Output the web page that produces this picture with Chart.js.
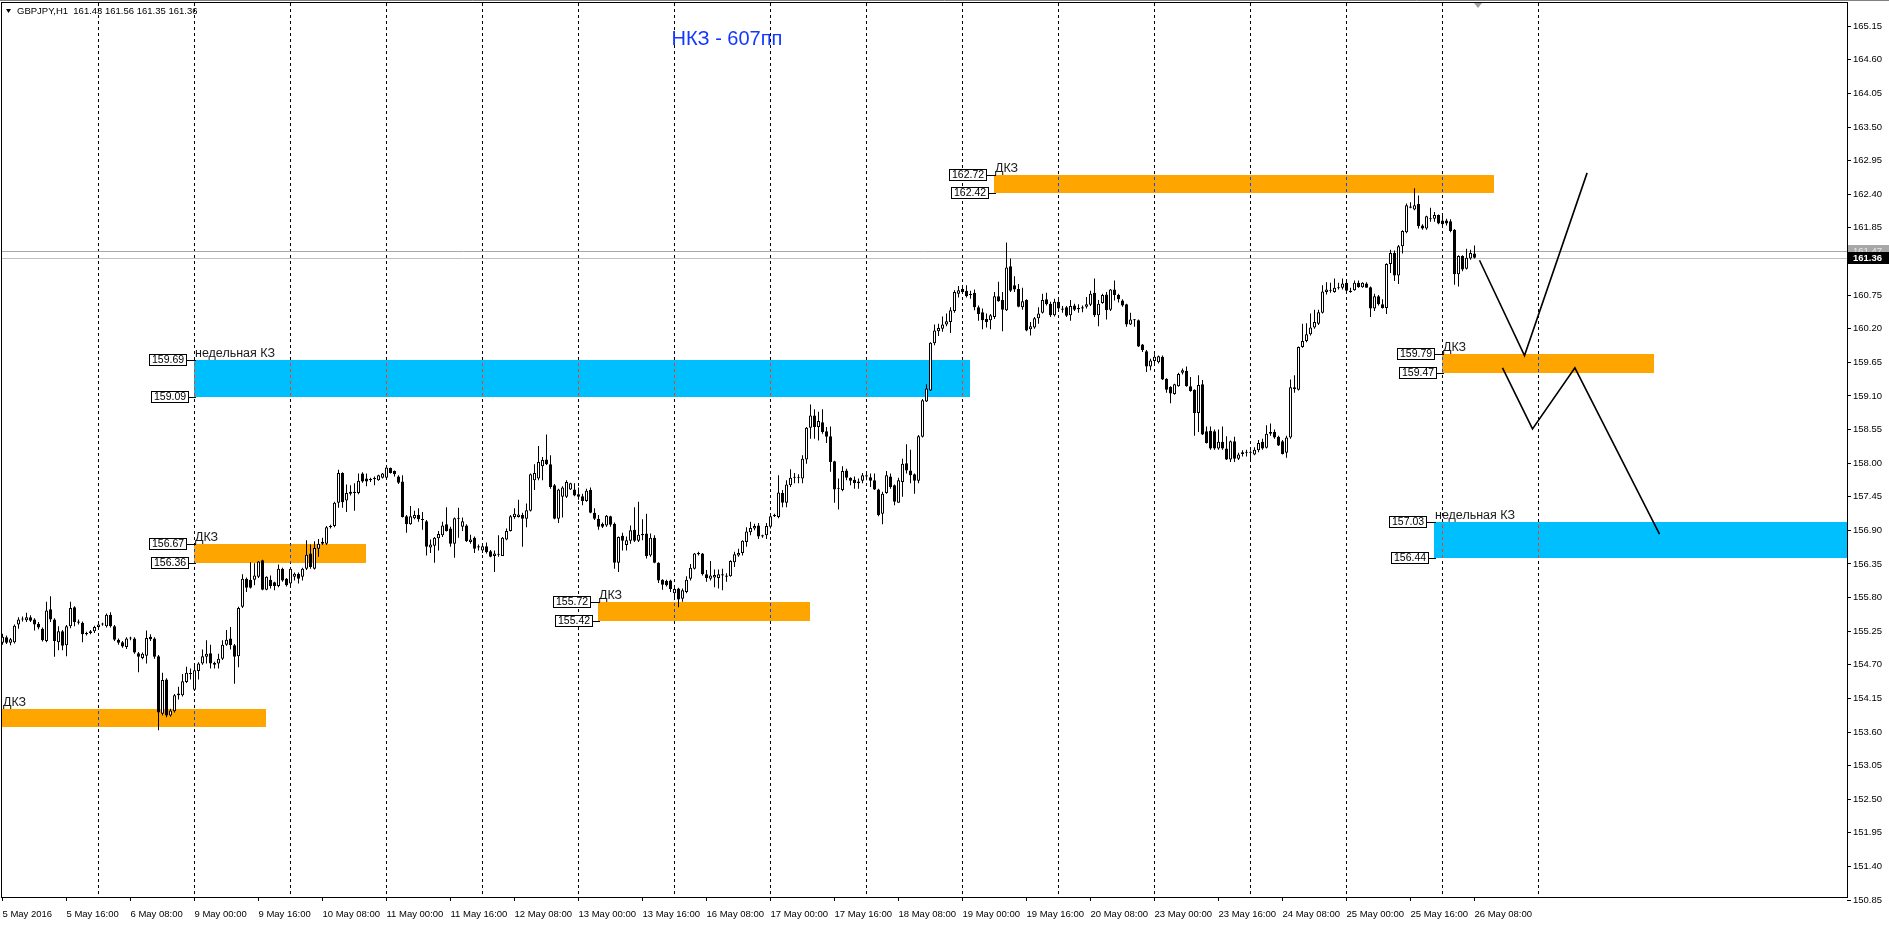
<!DOCTYPE html>
<html><head><meta charset="utf-8">
<script src="https://cdn.jsdelivr.net/npm/chart.js@4.4.0/dist/chart.umd.min.js"></script>
<style>html,body{margin:0;padding:0;background:#fff;overflow:hidden}</style>
</head><body>
<canvas id="c" width="1889" height="928"></canvas>
<script>
// ---- GBPJPY H1 candles (index = hourly bar from 5 May 2016 00:00) ----
const opens = [155.06,155.15,155.06,155.07,155.36,155.44,155.43,155.48,155.44,155.37,155.29,155.09,155.61,155.44,155.07,155.25,155.02,155.33,155.64,155.41,155.39,155.20,155.22,155.25,
155.32,155.36,155.33,155.52,155.33,155.11,155.07,154.99,155.13,155.13,154.89,154.81,154.85,155.16,155.13,154.84,153.90,154.46,153.87,153.94,154.20,154.20,154.42,154.56,
154.29,154.60,154.72,154.83,154.89,154.73,154.72,154.80,155.03,155.13,155.02,154.84,155.65,156.11,156.09,156.09,156.14,156.41,155.93,156.09,156.05,155.99,156.27,156.11,
156.03,156.14,156.19,156.14,156.27,156.52,156.27,156.60,156.68,156.68,156.95,156.97,157.35,157.84,157.39,157.53,157.51,157.51,157.83,157.75,157.72,157.74,157.72,157.76,
157.76,157.92,157.87,157.78,157.70,157.13,157.00,157.10,157.15,157.08,157.05,156.62,156.65,156.77,156.82,157.00,156.93,156.68,157.10,156.96,156.98,156.71,156.78,156.62,
156.57,156.64,156.56,156.48,156.50,156.48,156.75,156.89,157.12,157.12,157.15,157.09,157.22,157.72,157.75,157.95,158.06,157.98,157.64,157.09,157.45,157.45,157.57,157.57,
157.49,157.46,157.38,157.56,157.19,157.09,157.01,156.98,157.13,157.01,156.37,156.81,156.66,156.73,156.91,156.73,156.82,156.85,156.49,156.78,156.37,156.09,156.07,156.08,
155.87,155.95,155.78,155.89,156.11,156.27,156.53,156.52,156.18,156.11,156.13,156.12,156.18,156.16,156.15,156.38,156.49,156.53,156.71,156.87,156.93,156.98,156.82,156.82,
156.96,157.13,157.12,157.51,157.35,157.64,157.76,157.77,157.75,158.06,158.58,158.78,158.59,158.67,158.52,158.44,158.03,157.59,157.56,157.88,157.76,157.73,157.67,157.71,
157.80,157.77,157.72,157.57,157.17,157.51,157.78,157.64,157.35,157.69,158.00,157.88,157.82,157.71,158.43,159.01,159.19,159.96,160.16,160.20,160.27,160.31,160.49,160.77,
160.85,160.82,160.76,160.79,160.55,160.47,160.36,160.34,160.39,160.73,160.67,160.50,161.22,160.91,160.85,160.55,160.67,160.19,160.22,160.37,160.46,160.68,160.61,160.42,
160.64,160.53,160.55,160.42,160.58,160.54,160.53,160.56,160.59,160.79,160.42,160.62,160.76,160.51,160.84,160.75,160.66,160.60,160.27,160.35,160.34,159.94,159.83,159.58,
159.67,159.65,159.74,159.38,159.25,159.13,159.26,159.48,159.51,159.26,159.20,158.82,159.29,158.52,158.53,158.52,158.24,158.35,158.24,158.06,158.36,158.07,158.15,158.17,
158.18,158.14,158.21,158.35,158.25,158.48,158.51,158.43,158.36,158.17,158.42,159.21,159.20,159.90,160.00,160.11,160.22,160.28,160.46,160.80,160.82,160.80,160.86,160.87,
160.95,160.82,160.83,160.95,160.88,160.94,160.88,160.53,160.73,160.60,160.54,161.26,161.44,161.07,161.55,161.78,162.20,162.15,162.24,161.89,161.84,162.00,162.00,162.06,
161.97,161.97,161.96,161.82,161.09,161.39,161.18,161.35,161.43];
const highs = [155.21,155.18,155.14,155.36,155.48,155.49,155.55,155.51,155.46,155.40,155.31,155.73,155.82,155.46,155.33,155.27,155.35,155.73,155.66,155.44,155.41,155.24,155.27,155.34,
155.40,155.39,155.54,155.56,155.35,155.13,155.09,155.15,155.16,155.15,154.91,154.90,155.26,155.20,155.15,154.86,154.57,154.48,153.98,154.22,154.34,154.55,154.67,154.64,
154.72,154.74,154.95,155.10,155.03,154.75,154.88,155.10,155.27,155.32,155.04,155.65,156.18,156.13,156.38,156.36,156.40,156.42,156.15,156.16,156.06,156.34,156.29,156.12,
156.30,156.21,156.21,156.29,156.74,156.67,156.72,156.76,156.78,156.97,156.99,157.37,157.89,157.85,157.65,157.64,157.67,157.83,157.85,157.83,157.76,157.78,157.81,157.84,
157.94,157.93,157.88,157.80,157.80,157.15,157.30,157.22,157.26,157.20,157.07,156.75,156.79,156.89,157.04,157.28,156.96,157.11,157.27,157.11,157.00,156.83,156.80,156.67,
156.66,156.70,156.58,156.57,156.82,156.79,156.93,157.15,157.26,157.40,157.19,157.34,157.83,157.98,158.28,158.10,158.47,158.13,157.66,157.58,157.62,157.72,157.68,157.67,
157.60,157.50,157.58,157.60,157.26,157.15,157.03,157.15,157.14,157.03,156.80,156.86,156.80,156.98,157.28,157.37,157.08,157.17,156.85,156.82,156.38,156.10,156.09,156.09,
155.97,155.96,155.95,156.15,156.35,156.53,156.55,156.53,156.25,156.40,156.26,156.26,156.27,156.20,156.41,156.55,156.60,156.74,156.95,157.04,157.01,157.02,156.83,157.02,
157.17,157.17,157.80,157.56,157.72,157.90,157.84,157.82,158.13,158.59,158.96,158.88,158.84,158.88,158.59,158.60,158.04,157.75,157.95,157.91,157.77,157.78,157.75,157.84,
157.84,157.83,157.83,157.58,157.53,157.87,157.83,157.65,157.76,158.07,158.31,158.22,157.83,158.46,159.05,159.29,159.98,160.27,160.28,160.40,160.45,160.55,160.83,160.90,
160.90,160.91,160.82,160.84,160.58,160.53,160.45,160.44,160.80,160.97,160.80,161.61,161.35,161.06,160.93,160.87,160.68,160.31,160.39,160.55,160.77,160.79,160.64,160.69,
160.69,160.57,160.57,160.67,160.61,160.60,160.58,160.72,160.82,161.02,160.67,160.77,160.80,160.85,160.99,160.77,160.68,160.61,160.46,160.36,160.35,159.95,159.85,159.71,
159.78,159.76,159.76,159.39,159.26,159.30,159.48,159.55,159.58,159.41,159.21,159.44,159.36,158.60,158.60,158.55,158.55,158.60,158.44,158.37,158.43,158.17,158.21,158.22,
158.21,158.26,158.38,158.40,158.62,158.65,158.55,158.45,158.38,158.45,159.37,159.44,159.91,160.28,160.29,160.45,160.51,160.51,160.91,160.96,160.95,161.02,160.95,161.02,
160.99,160.87,160.99,160.99,160.96,160.96,160.89,160.77,160.75,160.68,161.27,161.49,161.48,161.57,161.81,162.25,162.27,162.50,162.38,161.91,162.05,162.18,162.11,162.07,
162.06,162.00,161.99,161.83,161.40,161.40,161.51,161.49,161.56];
const lows = [155.03,155.04,155.02,155.05,155.29,155.41,155.40,155.40,155.26,155.28,155.08,155.07,155.40,154.83,154.94,154.94,154.84,155.30,155.33,155.36,155.07,155.18,155.20,155.22,
155.30,155.34,155.31,155.31,155.09,155.03,154.98,154.96,155.10,154.88,154.58,154.79,154.72,155.09,154.80,153.63,153.87,153.84,153.85,153.92,154.13,154.18,154.40,154.46,
154.27,154.46,154.70,154.72,154.64,154.64,154.64,154.78,155.01,154.95,154.39,154.66,155.63,155.89,155.95,156.00,156.12,155.92,155.92,155.95,155.92,155.97,156.06,155.98,
156.00,156.08,156.03,156.08,156.25,156.27,156.26,156.47,156.66,156.66,156.93,156.95,157.27,157.27,157.20,157.47,157.22,157.49,157.68,157.62,157.69,157.64,157.71,157.75,
157.75,157.83,157.78,157.66,157.11,156.86,156.99,157.08,157.04,156.91,156.49,156.53,156.37,156.57,156.79,156.88,156.63,156.45,156.78,156.89,156.71,156.68,156.53,156.57,
156.53,156.52,156.46,156.22,156.47,156.48,156.74,156.88,157.09,157.11,156.63,156.95,157.21,157.56,157.72,157.72,157.97,157.58,157.08,157.02,157.11,157.43,157.56,157.46,
157.40,157.31,157.37,157.18,157.07,156.91,156.94,156.96,156.96,156.27,156.22,156.57,156.57,156.68,156.71,156.71,156.74,156.44,156.47,156.36,156.04,155.93,155.98,155.89,
155.78,155.64,155.73,155.87,156.08,156.26,156.49,156.16,156.06,156.08,155.97,155.95,155.92,156.06,156.14,156.30,156.47,156.49,156.63,156.82,156.90,156.76,156.78,156.76,
156.93,157.12,157.10,157.28,157.28,157.61,157.67,157.67,157.67,157.99,158.40,158.40,158.37,158.48,158.33,157.86,157.35,157.24,157.54,157.72,157.64,157.58,157.58,157.67,
157.72,157.61,157.56,157.13,157.00,157.50,157.58,157.31,157.35,157.45,157.83,157.67,157.50,157.67,158.42,159.00,159.18,159.93,160.08,160.15,160.24,160.13,160.46,160.71,
160.79,160.71,160.69,160.50,160.33,160.19,160.22,160.19,160.36,160.64,160.16,160.49,160.80,160.80,160.55,160.51,160.16,160.09,160.20,160.28,160.45,160.58,160.39,160.40,
160.50,160.46,160.39,160.33,160.49,160.46,160.47,160.53,160.57,160.39,160.24,160.61,160.35,160.49,160.66,160.63,160.56,160.23,160.26,160.23,159.90,159.82,159.49,159.52,
159.63,159.63,159.36,159.15,158.98,159.12,159.25,159.45,159.25,159.17,158.45,158.51,158.46,158.32,158.22,158.22,158.22,158.22,158.05,158.02,158.02,158.05,158.11,158.11,
158.02,158.13,158.18,158.22,158.24,158.45,158.40,158.28,158.14,158.09,158.40,159.15,159.19,159.89,159.98,160.09,160.20,160.26,160.45,160.76,160.79,160.79,160.84,160.84,
160.79,160.79,160.82,160.87,160.87,160.87,160.39,160.49,160.58,160.53,160.44,161.11,160.98,160.93,161.43,161.76,162.17,162.14,161.84,161.82,161.82,161.95,161.95,161.91,
161.85,161.89,161.78,160.92,160.89,161.14,161.17,161.33,161.35];
const closes = [155.16,155.06,155.12,155.34,155.44,155.45,155.48,155.42,155.36,155.31,155.10,155.59,155.44,155.09,155.25,155.01,155.33,155.63,155.40,155.39,155.20,155.22,155.25,155.32,
155.36,155.37,155.52,155.33,155.11,155.06,155.00,155.13,155.14,154.90,154.83,154.88,155.14,155.12,154.83,153.92,154.45,153.87,153.95,154.20,154.23,154.43,154.57,154.55,
154.61,154.72,154.84,154.88,154.72,154.70,154.80,155.03,155.11,155.02,154.83,155.63,156.11,155.96,155.96,156.16,156.39,155.93,156.14,155.99,155.99,156.27,156.08,156.00,
156.27,156.19,156.11,156.27,156.50,156.30,156.61,156.68,156.71,156.95,156.97,157.35,157.84,157.36,157.51,157.50,157.53,157.71,157.70,157.70,157.74,157.75,157.80,157.83,
157.93,157.84,157.82,157.68,157.12,157.00,157.13,157.15,157.08,157.07,156.63,156.67,156.78,156.84,156.98,156.89,156.68,157.10,157.09,157.05,156.72,156.75,156.60,156.64,
156.64,156.54,156.47,156.52,156.51,156.78,156.89,157.13,157.17,157.16,157.09,157.23,157.82,157.84,158.02,158.05,157.98,157.61,157.09,157.57,157.60,157.69,157.67,157.47,
157.45,157.38,157.55,157.19,157.09,156.96,156.96,157.14,156.99,156.37,156.79,156.73,156.74,156.90,156.73,156.83,156.84,156.48,156.78,156.37,156.08,156.01,156.00,155.94,
155.94,155.77,155.92,156.09,156.29,156.52,156.51,156.18,156.12,156.16,156.17,156.18,156.16,156.14,156.40,156.51,156.53,156.73,156.88,156.94,156.97,156.80,156.80,156.97,
157.13,157.15,157.52,157.35,157.65,157.76,157.77,157.76,158.07,158.58,158.78,158.59,158.69,158.51,158.43,158.02,157.57,157.58,157.87,157.76,157.71,157.67,157.70,157.80,
157.78,157.71,157.57,157.15,157.50,157.80,157.61,157.37,157.72,157.99,157.88,157.80,157.71,158.44,159.03,159.22,159.97,160.17,160.21,160.27,160.32,160.50,160.80,160.83,
160.80,160.73,160.75,160.55,160.44,160.34,160.31,160.42,160.73,160.65,160.51,161.20,160.82,160.84,160.56,160.65,160.17,160.24,160.37,160.45,160.67,160.60,160.42,160.64,
160.53,160.51,160.41,160.57,160.51,160.52,160.55,160.60,160.77,160.42,160.61,160.75,160.50,160.84,160.75,160.68,160.58,160.27,160.35,160.34,159.91,159.85,159.58,159.68,
159.74,159.75,159.37,159.20,159.14,159.29,159.46,159.52,159.26,159.18,158.82,159.28,158.47,158.33,158.24,158.24,158.35,158.24,158.06,158.36,158.07,158.14,158.18,158.18,
158.17,158.22,158.33,158.24,158.48,158.51,158.42,158.29,158.15,158.42,159.24,159.24,159.90,160.00,160.11,160.22,160.31,160.47,160.81,160.84,160.83,160.87,160.87,160.94,
160.82,160.80,160.95,160.88,160.95,160.87,160.53,160.73,160.60,160.54,161.26,161.44,161.07,161.55,161.80,162.22,162.18,162.22,161.88,161.84,162.04,161.99,162.06,161.92,
161.91,161.92,161.80,161.09,161.39,161.17,161.36,161.44,161.36];

// ---- axis ticks ----
const xTickBars = [0,16,32,48,64,80,96,112,128,144,160,176,192,208,224,240,256,272,288,304,320,336,352,368];
const xTickLabels = ['5 May 2016','5 May 16:00','6 May 08:00','9 May 00:00','9 May 16:00','10 May 08:00','11 May 00:00','11 May 16:00','12 May 08:00','13 May 00:00','13 May 16:00','16 May 08:00','17 May 00:00','17 May 16:00','18 May 08:00','19 May 00:00','19 May 16:00','20 May 08:00','23 May 00:00','23 May 16:00','24 May 08:00','25 May 00:00','25 May 16:00','26 May 08:00'];
const yTickValues = [165.15,164.60,164.05,163.50,162.95,162.40,161.85,161.30,160.75,160.20,159.65,159.10,158.55,158.00,157.45,156.90,156.35,155.80,155.25,154.70,154.15,153.60,153.05,152.50,151.95,151.40,150.85];
const dayStartBars = [24,48,72,96,120,144,168,192,216,240,264,288,312,336,360,384];

// ---- zones (rectangles) ----
const zoneName  = ['ДКЗ','ДКЗ','недельная КЗ','ДКЗ','ДКЗ','ДКЗ','недельная КЗ'];
const zoneHigh  = [153.98,156.67,159.69,155.72,162.72,159.79,157.03];
const zoneLow   = [153.68,156.36,159.09,155.42,162.42,159.47,156.44];
const zoneStart = [-1,47.95,47.9,148.8,247.9,359.9,357.8];
const zoneEnd   = [65.8,90.8,241.9,201.8,372.9,412.9,470];
const zoneTags  = [false,true,true,true,true,true,true];

// ---- forecast paths ----
const pathAX = [369.25,380.5,396.15];
const pathAY = [161.32,159.76,162.75];
const pathBX = [375,382.5,393.1,414.25];
const pathBY = [159.56,158.56,159.56,156.84];

const bidPrice = 161.36, askPrice = 161.47;
const headerText = 'GBPJPY,H1  161.43 161.56 161.35 161.36';
const titleText = 'НКЗ - 607пп';

const FONT = 'Liberation Sans, Arial, sans-serif';
const idx = opens.map((_, i) => i);
const bodyData = idx.map(i => ({x: i, y: [opens[i], closes[i]]}));
const wickData = idx.map(i => ({x: i, y: [lows[i], highs[i]]}));
const bodyColors = idx.map(i => closes[i] >= opens[i] ? '#ffffff' : '#000000');
const pathA = pathAX.map((v, i) => ({x: v, y: pathAY[i]}));
const pathB = pathBX.map((v, i) => ({x: v, y: pathBY[i]}));

const overlay = {
  id: 'overlay',
  beforeDatasetsDraw(chart) {
    const {ctx, chartArea: ca, scales: {x, y}} = chart;
    ctx.save();
    ctx.beginPath(); ctx.rect(ca.left, ca.top, ca.right - ca.left, ca.bottom - ca.top); ctx.clip();
    const rects = zoneHigh.map((hi, k) => {
      const x0 = Math.round(x.getPixelForValue(zoneStart[k])), x1 = Math.round(x.getPixelForValue(zoneEnd[k]));
      const y0 = Math.round(y.getPixelForValue(hi)), y1 = Math.round(y.getPixelForValue(zoneLow[k]));
      return {x0, x1, y0, y1, orange: zoneName[k] === 'ДКЗ'};
    });
    rects.forEach(r => { ctx.fillStyle = r.orange ? '#FFA500' : '#00BFFF'; ctx.fillRect(r.x0, r.y0, r.x1 - r.x0, r.y1 - r.y0); });
    const drawDays = (color) => {
      ctx.strokeStyle = color; ctx.lineWidth = 1; ctx.setLineDash([3, 3]);
      dayStartBars.forEach(b => {
        const px = Math.floor(x.getPixelForValue(b)) + 0.5;
        ctx.beginPath(); ctx.moveTo(px, ca.top); ctx.lineTo(px, ca.bottom); ctx.stroke();
      });
    };
    drawDays('#000');
    rects.forEach(r => {
      ctx.save(); ctx.beginPath(); ctx.rect(r.x0, r.y0, r.x1 - r.x0, r.y1 - r.y0); ctx.clip();
      drawDays(r.orange ? '#0050FF' : '#FF3A00'); ctx.restore();
    });
    ctx.setLineDash([]);
    [[askPrice, '#A8A8A8'], [bidPrice, '#C0C0C0']].forEach(([p, c]) => {
      const py = Math.round(y.getPixelForValue(p)) + 0.5;
      ctx.strokeStyle = c; ctx.beginPath(); ctx.moveTo(ca.left, py); ctx.lineTo(ca.right, py); ctx.stroke();
    });
    ctx.restore();
  },
  afterDatasetsDraw(chart) {
    const {ctx, chartArea: ca, scales: {x, y}} = chart;
    ctx.save();
    zoneHigh.forEach((hi, k) => {
      const x0 = Math.max(ca.left, Math.round(x.getPixelForValue(zoneStart[k])));
      const y0 = Math.round(y.getPixelForValue(hi)), y1 = Math.round(y.getPixelForValue(zoneLow[k]));
      ctx.fillStyle = '#1a1a1a'; ctx.font = '12.5px ' + FONT; ctx.textAlign = 'left'; ctx.textBaseline = 'alphabetic';
      ctx.fillText(zoneName[k], x0 + 1, y0 - 3);
      if (zoneTags[k]) {
        [[hi, y0, 7], [zoneLow[k], y1, 5]].forEach(([p, py, gap]) => {
          ctx.font = '10.5px ' + FONT;
          const t = p.toFixed(2), w = Math.ceil(ctx.measureText(t).width) + 5;
          const rx = x0 - gap - w, ry = py - 6;
          ctx.fillStyle = '#fff'; ctx.fillRect(rx, ry, w, 12);
          ctx.strokeStyle = '#000'; ctx.lineWidth = 1; ctx.strokeRect(rx + 0.5, ry + 0.5, w - 1, 11);
          ctx.beginPath(); ctx.moveTo(rx + w, py + 0.5); ctx.lineTo(x0 + 2, py + 0.5); ctx.stroke();
          ctx.fillStyle = '#000'; ctx.textBaseline = 'middle'; ctx.textAlign = 'left';
          ctx.fillText(t, rx + 3, py + 0.5);
        });
      }
    });
    ctx.strokeStyle = '#000'; ctx.lineWidth = 1;
    ctx.strokeRect(ca.left - 0.5, ca.top - 0.5, ca.right - ca.left + 1, ca.bottom - ca.top + 1);
    ctx.strokeStyle = '#808080'; ctx.beginPath(); ctx.moveTo(0, 0.5); ctx.lineTo(1889, 0.5); ctx.stroke();
    ctx.fillStyle = '#000';
    ctx.beginPath(); ctx.moveTo(6, 9); ctx.lineTo(11, 9); ctx.lineTo(8.5, 13); ctx.closePath(); ctx.fill();
    ctx.font = '9.5px ' + FONT; ctx.textBaseline = 'middle'; ctx.textAlign = 'left';
    ctx.fillText(headerText, 17, 11.5);
    ctx.fillStyle = '#A0A0A0';
    ctx.beginPath(); ctx.moveTo(1474, 3); ctx.lineTo(1482, 3); ctx.lineTo(1478, 8); ctx.closePath(); ctx.fill();
    ctx.fillStyle = '#1238FF'; ctx.font = '20px ' + FONT; ctx.textAlign = 'center';
    ctx.fillText(titleText, 727, 39);
    ctx.textAlign = 'left'; ctx.font = '9.5px ' + FONT;
    const ya = Math.round(y.getPixelForValue(askPrice));
    ctx.fillStyle = '#A8A8A8'; ctx.fillRect(ca.right + 1, ya - 6, 41, 12);
    ctx.fillStyle = '#E8E8E8'; ctx.fillText(askPrice.toFixed(2), ca.right + 6, ya);
    const yb = Math.round(y.getPixelForValue(bidPrice));
    ctx.fillStyle = '#000'; ctx.fillRect(ca.right + 1, yb - 6, 41, 12);
    ctx.fillStyle = '#fff'; ctx.font = 'bold 9.5px ' + FONT; ctx.fillText(bidPrice.toFixed(2), ca.right + 6, yb);
    ctx.restore();
  }
};

new Chart(document.getElementById('c'), {
  type: 'bar',
  data: {
    datasets: [
      {type: 'line', data: pathA, borderColor: '#000', borderWidth: 1.6, pointRadius: 0, fill: false, tension: 0, order: 0},
      {type: 'line', data: pathB, borderColor: '#000', borderWidth: 1.6, pointRadius: 0, fill: false, tension: 0, order: 0},
      {data: bodyData, backgroundColor: bodyColors, borderColor: '#000', borderWidth: 1, borderSkipped: false,
       barThickness: 3, grouped: false, inflateAmount: 0, minBarLength: 1, order: 1},
      {data: wickData, backgroundColor: '#000', borderWidth: 0, barThickness: 1, grouped: false, inflateAmount: 0, order: 2}
    ]
  },
  options: {
    responsive: false, animation: false, devicePixelRatio: 1, events: [],
    layout: {padding: {left: 2, top: 3, right: 0, bottom: 0}},
    plugins: {legend: {display: false}, tooltip: {enabled: false}},
    scales: {
      x: {
        type: 'linear', position: 'bottom', min: -0.125, max: 461.125, offset: false,
        afterBuildTicks: s => { s.ticks = xTickBars.map(v => ({value: v})); },
        afterFit: s => { s.height = 31; s.paddingLeft = 0; s.paddingRight = 0; },
        ticks: {autoSkip: false, maxRotation: 0, minRotation: 0, align: 'start', padding: 8,
                font: {family: FONT, size: 9.5}, color: '#000', callback: (v, i) => xTickLabels[i]},
        grid: {drawOnChartArea: false, drawTicks: true, tickLength: 4, color: '#000', offset: false},
        border: {display: false}
      },
      y: {
        type: 'linear', position: 'right', min: 150.90, max: 165.53,
        afterBuildTicks: s => { s.ticks = yTickValues.map(v => ({value: v})); },
        afterFit: s => { s.width = 42; s.paddingTop = 0; s.paddingBottom = 0; },
        ticks: {padding: 2, font: {family: FONT, size: 9.5}, color: '#000', callback: v => v.toFixed(2)},
        grid: {drawOnChartArea: false, drawTicks: true, tickLength: 4, color: '#000'},
        border: {display: false}
      }
    }
  },
  plugins: [overlay]
});
</script>
</body></html>
